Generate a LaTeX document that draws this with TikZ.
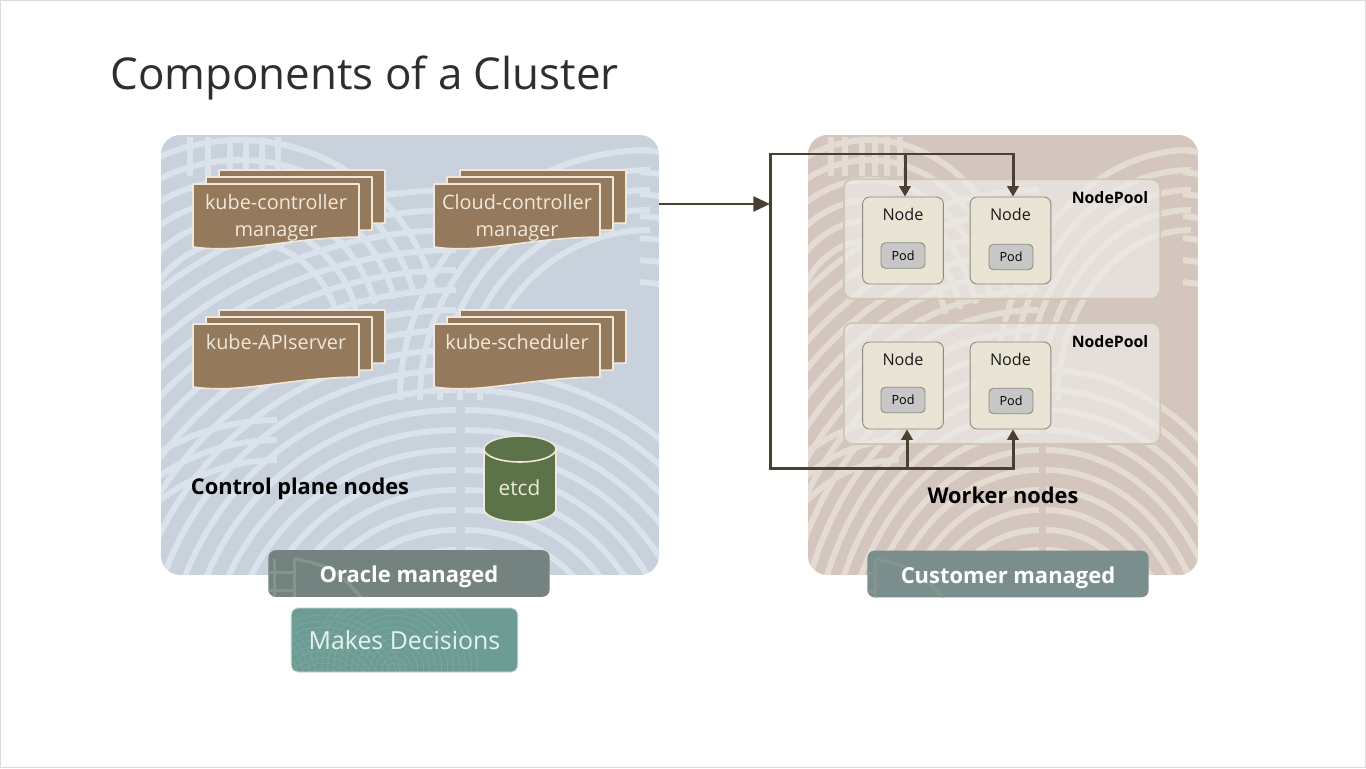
\documentclass[tikz,border=0pt]{standalone}
\usepackage{fontspec}
\setmainfont{Open Sans}
\usetikzlibrary{positioning,arrows.meta}

\definecolor{cpbg}{HTML}{C8D1DC}
\definecolor{cpline}{HTML}{DAE3EC}
\definecolor{wnbg}{HTML}{D4C5BF}
\definecolor{wnline}{HTML}{E4DBD3}
\definecolor{sheet}{HTML}{94795D}
\definecolor{sheetedge}{HTML}{F0E8DA}
\definecolor{flowcol}{HTML}{4A3F33}
\definecolor{etcdcol}{HTML}{5C7349}
\definecolor{poolfill}{HTML}{ECE9E5}
\definecolor{pooledge}{HTML}{D0C8B4}
\definecolor{nodefill}{HTML}{E9E4D3}
\definecolor{nodeedge}{HTML}{8A8A7F}
\definecolor{oraclecol}{HTML}{748380}
\definecolor{custcol}{HTML}{7A8F8D}
\definecolor{decidecol}{HTML}{6D9C95}
\definecolor{tagline}{HTML}{84948F}
\definecolor{decideline}{HTML}{7FA9A2}
\definecolor{decidetext}{HTML}{E6F4EE}

\tikzset{
  poolbox/.style={draw=pooledge, line width=1pt, fill=poolfill, fill opacity=0.72, draw opacity=1, text opacity=1, rounded corners=5pt, inner sep=0pt},
  nodebox/.style={draw=nodeedge, line width=0.5pt, fill=nodefill, fill opacity=0.85, draw opacity=1, rounded corners=4pt, minimum width=46pt, minimum height=49.5pt},
  podbox/.style={draw=nodeedge, line width=0.5pt, fill=black!22, rounded corners=2.5pt, minimum width=25pt, minimum height=14.5pt, inner sep=0pt, font=\fontsize{7.2}{9}\selectfont},
  tagbox/.style={rounded corners=4pt, text=white, font=\fontsize{12.5}{16}\bfseries\selectfont, minimum width=160pt, minimum height=26.5pt, inner sep=0pt, text height=10.4pt, text depth=0pt},
  flow/.style={draw=flowcol, line width=1.7pt},
  flowarrow/.style={flow, -{Triangle[length=6pt,width=6.5pt]}},
  doctext/.style={text=sheetedge, font=\fontsize{11.3}{15.5}\selectfont, align=center},
  sheetpath/.style={draw=sheetedge, line width=0.9pt, fill=sheet, line join=round},
  poolname/.style={font=\fontsize{9}{11}\bfseries\selectfont, text=black},
  nodename/.style={font=\fontsize{9.2}{11}\selectfont, text=black!90},
  panellabel/.style={font=\fontsize{12.4}{15}\bfseries\selectfont, text=black}
}

% one sheet of a stack, #1 left, #2 top, both in pixels
\newcommand{\onesheet}[2]{
  \filldraw[sheetpath] (#1,#2) -- ++(166,0) -- ++(0,53)
    .. controls +(-76,1) and +(50,7) .. ++(-166,10) -- cycle;
}
\newcommand{\docstack}[2]{
  \pgfmathsetmacro{\xb}{#1+26}
  \pgfmathsetmacro{\yb}{#2-14}
  \pgfmathsetmacro{\xm}{#1+13}
  \pgfmathsetmacro{\ym}{#2-7}
  \onesheet{\xb}{\yb}
  \onesheet{\xm}{\ym}
  \onesheet{#1}{#2}
}
% rings of the panels, #1 and #2 centre, #3 from, #4 next, #5 to, #6 and #7 angles
\newcommand{\rings}[7]{
  \foreach \r in {#3,#4,...,#5}
    \draw (#1,#2) ++(#6:\r) arc[start angle=#6, end angle=#7, radius=\r];
}
\newcommand{\panelrings}{
  \rings{456}{680}{130}{150}{500}{180}{270}
  \rings{465}{680}{130}{150}{310}{270}{360}
  \rings{277}{650}{190}{210}{240}{205}{270}
  \rings{240}{340}{100}{120}{210}{180}{345}
  \rings{650}{400}{170}{190}{260}{180}{270}
  \foreach \xx in {190,208,230,246,262,278}
    \draw (\xx,137) -- (\xx,176);
  \foreach \yy in {150,172,194,216,238,260,282}
    \draw (640,\yy) -- (660,\yy+2);
}
% marks on a managed tag, from the tag's own centre
\newcommand{\tagrings}{
  \foreach \xx in {-132,-115,-95,-80,-60,-45,-25}
    \draw[tagline, line width=1.8pt] (\xx,-24) -- (\xx,24);
  \foreach \yy in {-10,8}
    \draw[tagline, line width=1.8pt] (-95,\yy) -- (-25,\yy);
  \draw[tagline, line width=1.8pt] (-25,-24) .. controls (15,-15) .. (50,24);
}

\begin{document}
\begin{tikzpicture}[x=0.02cm,y=-0.02cm]
\useasboundingbox (0,0) rectangle (1366,768);
\fill[white] (0,0) rectangle (1366,768);
\draw[black!14, line width=0.6pt] (0.5,0.5) rectangle (1365.5,767.5);

\node[anchor=west, inner sep=0pt, text=black!82, font=\fontsize{25}{30}\selectfont] (title) at (110,78) {Components of a Cluster};

% control plane panel
\begin{scope}
\clip[rounded corners=11pt] (161,135) rectangle (659,575);
\fill[cpbg] (161,135) rectangle (659,575);
\begin{scope}[draw=cpline, line width=3.4pt]
\panelrings
\end{scope}
\end{scope}
\coordinate (cpout) at (659,204);

% worker panel, same rings squeezed
\begin{scope}
\clip[rounded corners=11pt] (808,135) rectangle (1198,575);
\fill[wnbg] (808,135) rectangle (1198,575);
\begin{scope}[draw=wnline, line width=3.4pt, shift={(808,0)}, xscale=0.783, shift={(-161,0)}]
\panelrings
\end{scope}
\end{scope}

% stacks
\docstack{193}{184}
\docstack{434}{184}
\docstack{193}{324}
\docstack{434}{324}
\node[doctext] (kcm) at (276,218) {kube-controller\\manager};
\node[doctext] (ccm) at (517,218) {Cloud-controller\\manager};
\node[doctext] (api) at (276,342) {kube-APIserver};
\node[doctext] (sch) at (517,342) {kube-scheduler};

% etcd drum
\filldraw[draw=sheetedge, line width=0.9pt, fill=etcdcol] (484,449) -- (484,509)
  arc[x radius=36, y radius=13, start angle=180, end angle=0] -- (556,449)
  arc[x radius=36, y radius=13, start angle=0, end angle=-180] -- cycle;
\draw[draw=sheetedge, line width=0.9pt] (484,449) arc[x radius=36, y radius=13, start angle=180, end angle=0];
\node[text=sheetedge, font=\fontsize{11.8}{15}\selectfont] (etcdname) at (519.5,488) {etcd};
\node[panellabel] (cplabel) at (300,488.5) {Control plane nodes};

% node pools
\node[poolbox, minimum width=180pt, minimum height=68pt] (poolA) at (1002,239) {};
\node[poolbox, minimum width=180pt, minimum height=69pt] (poolB) at (1002,383.5) {};
\node[poolname] (poolAname) at (1110,198) {NodePool};
\node[poolname] (poolBname) at (1110,342) {NodePool};

\node[nodebox] (nodeA) at (903,240.5) {};
\node[nodebox] (nodeB) at (1010.5,240.5) {};
\node[nodebox] (nodeC) at (903,385.5) {};
\node[nodebox] (nodeD) at (1010.5,385.5) {};
\foreach \n/\xx/\yy in {nodeAname/903/214,nodeBname/1010.5/214,nodeCname/903/359,nodeDname/1010.5/359}
  \node[nodename] (\n) at (\xx,\yy) {Node};
\node[podbox] (podA) at (903,255.5) {Pod};
\node[podbox] (podB) at (1011,257) {Pod};
\node[podbox] (podC) at (903,400) {Pod};
\node[podbox] (podD) at (1011,401) {Pod};

% connectors
\coordinate (bus) at (770,204);
\coordinate (topA) at (905,154);
\coordinate (topB) at (1013,154);
\coordinate (lowC) at (907,468);
\coordinate (lowD) at (1013,468);
\draw[flow, -{Triangle[length=9.5pt,width=8.5pt]}] (cpout) -- (bus);
\draw[flow] (bus) |- (topA);
\draw[flowarrow] (topA) -- (topB) -- (topB |- nodeB.north);
\draw[flowarrow] (topA) -- (topA |- nodeA.north);
\draw[flow] (bus) |- (lowC);
\draw[flowarrow] (lowC) -- (lowD) -- (lowD |- nodeD.south);
\draw[flowarrow] (lowC) -- (lowC |- nodeC.south);

\node[panellabel] (wnlabel) at (1003,495) {Worker nodes};

% tags
\node[tagbox, fill=oraclecol, path picture={\tagrings}] (oracle) at (409,573.5) {Oracle managed};
\node[tagbox, fill=custcol, path picture={\tagrings}] (customer) at (1008,574) {Customer managed};
\node[tagbox, draw=white!70!decidecol, line width=0.5pt, fill=decidecol, minimum width=129pt, minimum height=36.5pt, text=decidetext, font=\fontsize{14.15}{18}\selectfont, path picture={
  \foreach \cx/\cy in {-75/40,15/50,85/20}
    \foreach \r in {6,12,...,84}
      \draw[decideline, line width=0.3pt] (\cx,\cy) circle[radius=\r];
}] (decide) at (404.5,640) {Makes Decisions};
\end{tikzpicture}
\end{document}
